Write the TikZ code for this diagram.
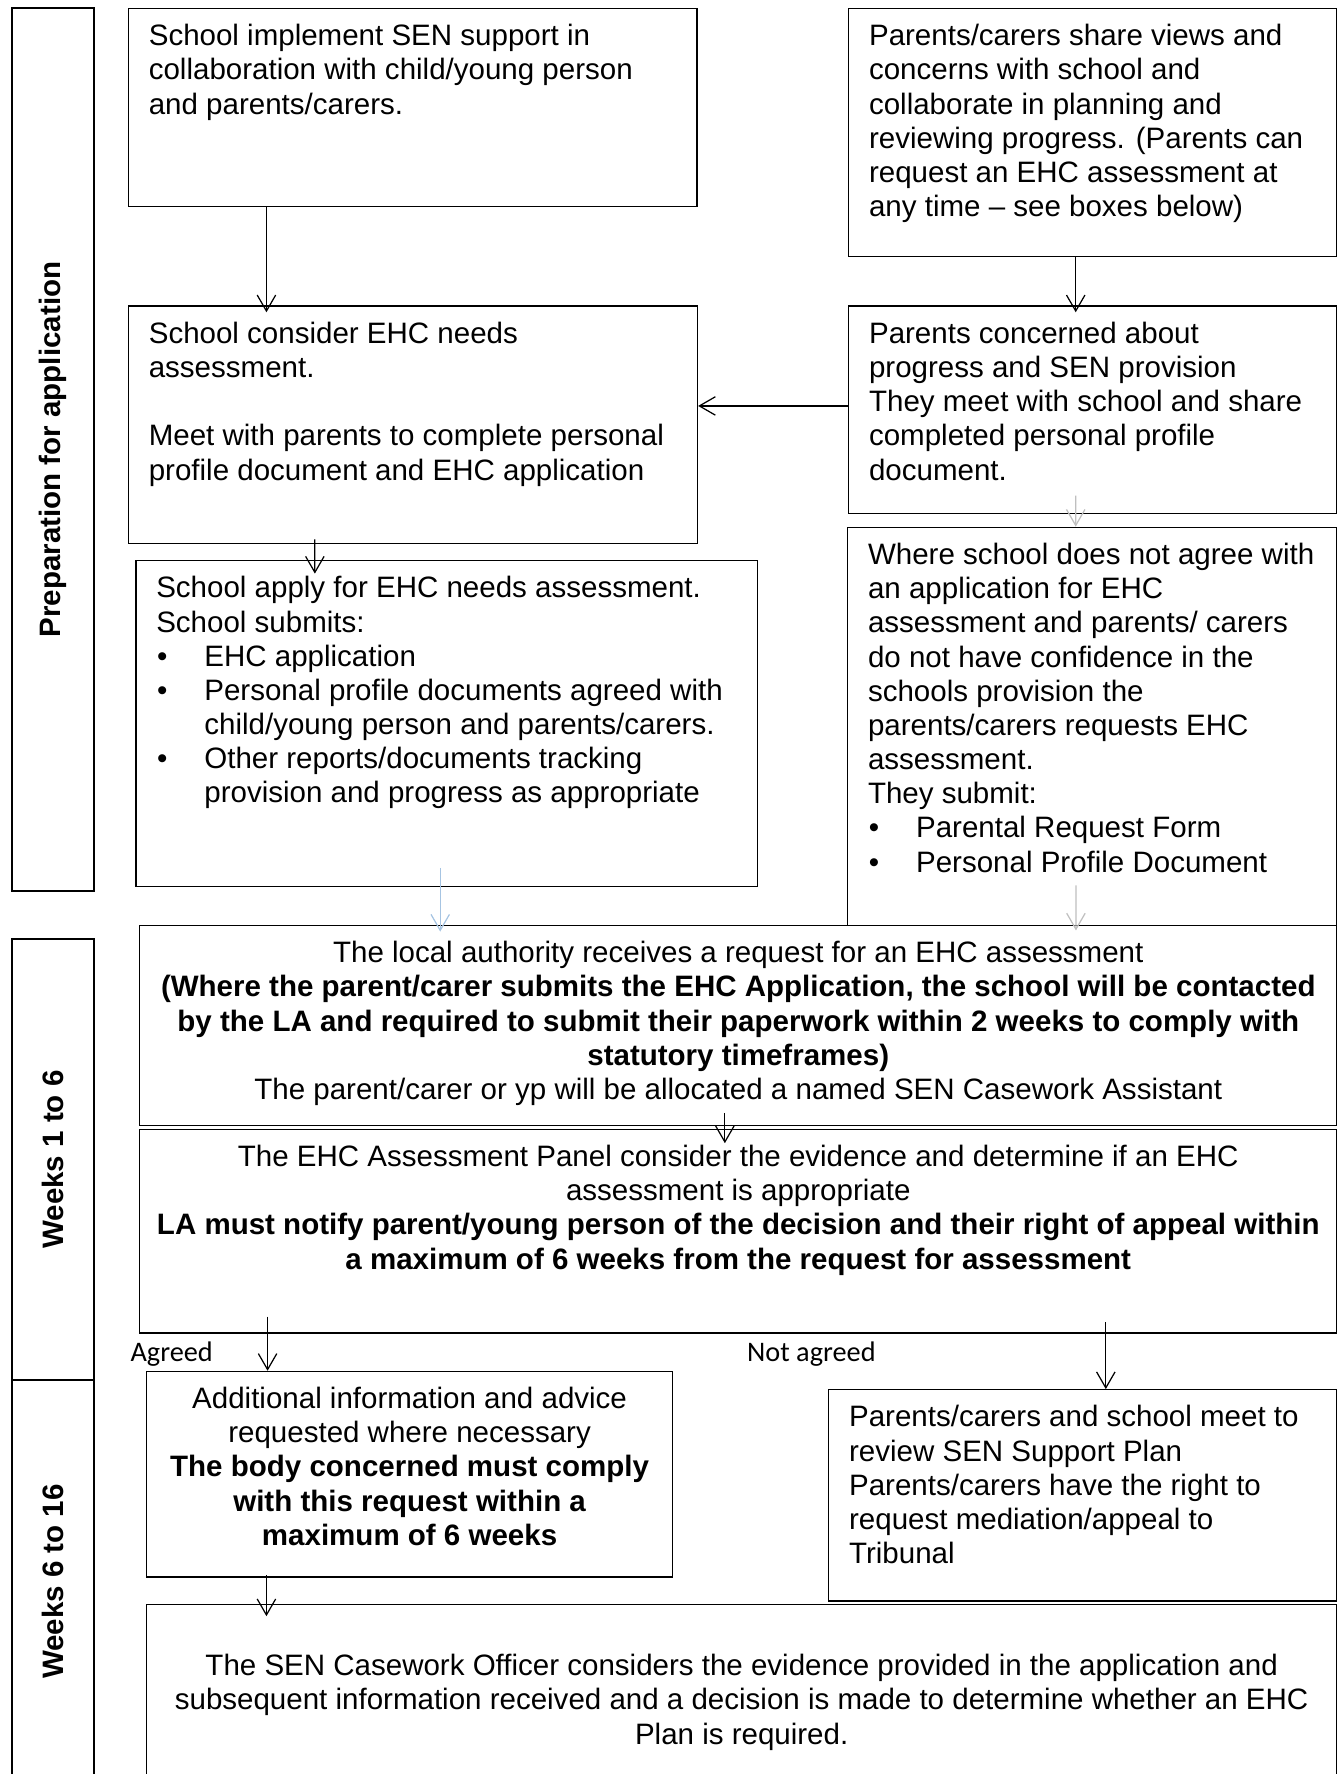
\documentclass[tikz,border=0pt]{standalone}
\usepackage{fontspec}
\setmainfont{Liberation Sans}
\newfontfamily\tagfont{Carlito}
\usetikzlibrary{arrows.meta}
\newdimen\pxu \pxu=0.46pt
\definecolor{palearrow}{RGB}{166,196,226}
\definecolor{greyarrow}{RGB}{191,191,191}
\newcommand{\bodyfont}{\fontsize{12pt}{13.9pt}\selectfont}
\newcommand{\lefttext}[3]{\parbox[t][#2\pxu][t]{#1\pxu}{\leftskip=18\pxu\rightskip=0pt plus 1fil\vspace*{5.4pt}\strut#3}}
\newcommand{\centretext}[3]{\parbox[t][#2\pxu][t]{#1\pxu}{\centering\vspace*{5.4pt}\strut#3}}
\newcommand{\blt}{\makebox[42.5\pxu][l]{\hspace{0.3pt}\textbullet}}
\newcommand{\hang}{\hspace*{42.5\pxu}}
\tikzset{panel/.style={draw=black, line width=0.5pt, anchor=north west, inner sep=0pt, font=\bodyfont}}
\tikzset{band/.style={draw=black, line width=0.8pt, rotate=90, minimum height=72\pxu, inner sep=0pt, font=\bodyfont\bfseries}}
\tikzset{tag/.style={anchor=base west, inner sep=0pt, font=\tagfont\fontsize{11.5pt}{13pt}\selectfont}}
\tikzset{arr/.style={-{Straight Barb[length=6.5pt,width=7.5pt]}, line width=0.5pt}}

\begin{document}
\begin{tikzpicture}[x=0.46pt, y=-0.46pt]
\path[use as bounding box, clip] (0,0) rectangle (1185,1568);

% stage bands
\node[band, minimum width=780.5\pxu] (prep) at (47,397.25) {Preparation for application};
\node[band, minimum width=389.8\pxu] (wka) at (47,1024.9) {Weeks 1 to 6};
\node[band, minimum width=356.2\pxu] (wkb) at (47,1397.9) {Weeks 6 to 16};

% preparation
\node[panel] (A) at (113,7) {\lefttext{502.5}{175}{School implement SEN support in\\
collaboration with child/young person\\
and parents/carers.}};
\node[panel] (B) at (749.6,7) {\lefttext{431.4}{219}{Parents/carers share views and\\
concerns with school and\\
collaborate in planning and\\
reviewing progress. (Parents can\\
request an EHC assessment at\\
any time – see boxes below)}};
\node[panel] (C) at (113,270) {\lefttext{503}{209.7}{School consider EHC needs\\
assessment.\\[13.9pt]
Meet with parents to complete personal\\
profile document and EHC application}};
\node[panel] (D) at (749.6,270) {\lefttext{431.4}{183}{Parents concerned about\\
progress and SEN provision\\
They meet with school and share\\
completed personal profile\\
document.}};
\node[panel] (E) at (119.6,495) {\lefttext{549.4}{288}{School apply for EHC needs assessment.\\
School submits:\\
\blt EHC application\\
\blt Personal profile documents agreed with\\
\hang child/young person and parents/carers.\\
\blt Other reports/documents tracking\\
\hang provision and progress as appropriate}};
\node[panel] (F) at (748.7,465.5) {\lefttext{432.3}{351.9}{Where school does not agree with\\
an application for EHC\\
assessment and parents/ carers\\
do not have confidence in the\\
schools provision the\\
parents/carers requests EHC\\
assessment.\\
They submit:\\
\blt Parental Request Form\\
\blt Personal Profile Document}};

% weeks 1 to 6
\node[panel] (G) at (123,817.4) {\centretext{1058}{177.1}{The local authority receives a request for an EHC assessment\\
\textbf{(Where the parent/carer submits the EHC Application, the school will be contacted\\
by the LA and required to submit their paperwork within 2 weeks to comply with\\
statutory timeframes)}\\
The parent/carer or yp will be allocated a named SEN Casework Assistant}};
\node[panel] (H) at (123,997.7) {\centretext{1058}{180}{The EHC Assessment Panel consider the evidence and determine if an EHC\\
assessment is appropriate\\
\textbf{LA must notify parent/young person of the decision and their right of appeal within\\
a maximum of 6 weeks from the request for assessment}}};

% weeks 6 to 16
\node[panel] (I) at (129,1211.6) {\centretext{465}{181.7}{Additional information and advice\\
requested where necessary\\
\textbf{The body concerned must comply\\
with this request within a\\
maximum of 6 weeks}}};
\node[panel] (J) at (732,1227.8) {\lefttext{449}{186.7}{Parents/carers and school meet to\\
review SEN Support Plan\\
Parents/carers have the right to\\
request mediation/appeal to\\
Tribunal}};
\node[panel] (K) at (129,1417.5) {\centretext{1052}{175}{\\
The SEN Casework Officer considers the evidence provided in the application and\\
subsequent information received and a decision is made to determine whether an EHC\\
Plan is required.}};

\node[tag] (agreed) at (115,1203.3) {Agreed};
\node[tag] (notagreed) at (660,1203.3) {Not agreed};

% connectors
\draw[arr, shorten >=-6\pxu] ([xshift=122.5\pxu]A.south west) -- ([xshift=122.5\pxu]C.north west);
\draw[arr, shorten >=-6\pxu] ([xshift=201.2\pxu]B.south west) -- ([xshift=201.2\pxu]D.north west);
\draw[arr] ([yshift=-88.8\pxu]D.north west) -- ([yshift=-88.8\pxu]C.north east);
\draw[arr, shorten <=-4\pxu, shorten >=-12\pxu] ([xshift=165.3\pxu]C.south west) -- ([xshift=158.7\pxu]E.north west);
\draw[arr, draw=greyarrow, shorten <=-16\pxu] ([xshift=201.2\pxu]D.south west) -- ([xshift=202.1\pxu]F.north west);
\draw[arr, draw=palearrow, shorten <=-17\pxu, shorten >=-6\pxu] ([xshift=269.5\pxu]E.south west) -- ([xshift=266.1\pxu]G.north west);
\draw[arr, draw=greyarrow] ([xshift=202.3\pxu, yshift=36\pxu]F.south west) -- ([xshift=828\pxu, yshift=-5\pxu]G.north west);
\draw[arr, shorten <=-12\pxu, shorten >=-12.7\pxu] ([xshift=517.7\pxu]G.south west) -- ([xshift=517.7\pxu]H.north west);
\draw[arr, shorten <=-15\pxu] ([xshift=113.5\pxu]H.south west) -- ([xshift=107.5\pxu]I.north west);
\draw[arr, shorten <=-10\pxu] ([xshift=854.4\pxu]H.south west) -- ([xshift=245.4\pxu]J.north west);
\draw[arr, shorten <=-2\pxu, shorten >=-11\pxu] ([xshift=106.5\pxu]I.south west) -- ([xshift=106.5\pxu]K.north west);
\end{tikzpicture}
\end{document}
